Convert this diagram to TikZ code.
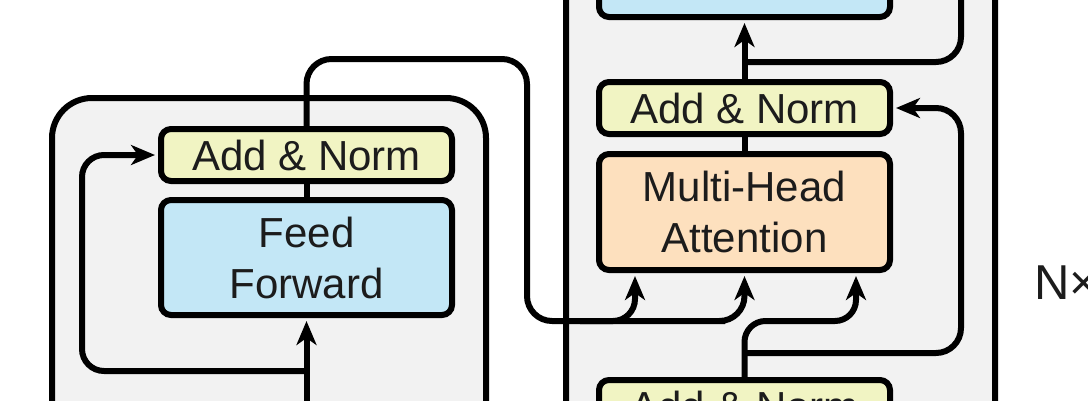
\documentclass[tikz,border=0pt]{standalone}
\usepackage{fontspec}
\setmainfont{Liberation Sans}
\usetikzlibrary{arrows.meta,calc,positioning}
\definecolor{panelgray}{HTML}{F2F2F2}
\definecolor{normyellow}{HTML}{F1F4C3}
\definecolor{ffblue}{HTML}{C3E7F6}
\definecolor{attnorange}{HTML}{FDE0BE}
\definecolor{inkgray}{HTML}{1C1C1C}

\begin{document}
\begin{tikzpicture}[x=1pt,y=-1pt,
	blk/.style={draw, line width=6pt, rounded corners=10pt, minimum width=291pt,
		align=center, inner sep=0pt, text=inkgray, font=\fontsize{42}{51}\selectfont},
	addnorm/.style={blk, fill=normyellow, minimum height=52pt},
	ffbox/.style={blk, fill=ffblue, minimum height=115pt},
	attnbox/.style={blk, fill=attnorange, minimum height=116pt},
	panel/.style={draw, fill=panelgray, line width=6pt, rounded corners=40pt},
	wire/.style={line width=6pt},
	arr/.style={wire, -{Stealth[length=24pt,width=20pt,inset=7pt]}, shorten >=3pt},
	]
	
	\useasboundingbox (0,0) rectangle (1088,400);
	
	% encoder layer
	\draw[panel] (52,98) rectangle (486,520);
	\node[addnorm] (encAN) at (306.5,155) {Add \& Norm};
	\node[ffbox] (encFF) at (306.5,257.5) {Feed\\Forward};
	
	% decoder layer
	\draw[panel] (566,-120) rectangle (995,520);
	\node[ffbox] (decFF) at (744.5,-40.5) {};
	\node[addnorm] (decAN) at (744.5,108) {Add \& Norm};
	\node[attnbox] (attn) at (744.5,212) {Multi-Head\\Attention};
	\node[addnorm] (decANlow) at (744.5,406) {Add \& Norm};
	
	\node[anchor=west, inner sep=0pt, text=inkgray, font=\fontsize{49}{58}\selectfont] (nx) at (1034,282.5) {N×};
	
	% helper points
	\coordinate (encIn) at (306.5,420);
	\coordinate (encSplit) at (306.5,371);
	\coordinate (encTurn) at (527,59);
	\coordinate (kvBus) at (700,321);
	\coordinate (qBus) at (580,321);
	\coordinate (decSplit) at (744.5,353);
	\coordinate (ffSplit) at (744.5,62);
	
	% encoder wires
	\draw[arr] (encIn) -- (encFF.south);
	\draw[wire] (encFF.north) -- (encAN.south);
	\draw[arr, rounded corners=22pt] (encSplit) -| (82,155) -- (encAN.west);
	\draw[arr, rounded corners=25pt] (encAN.north) |- (encTurn) |- (kvBus) -| (attn.south);
	\draw[arr, rounded corners=22pt] (qBus) -| ($(attn.south west)+(39,0)$);
	
	% decoder wires
	\draw[arr, rounded corners=21pt] (decANlow.north) |- (800,321) -| ($(attn.south east)+(-37,0)$);
	\draw[arr, rounded corners=25pt] (decSplit) -| (961,108) -- (decAN.east);
	\draw[wire] (attn.north) -- (decAN.south);
	\draw[arr] (decAN.north) -- (decFF.south);
	\draw[wire, rounded corners=25pt] (ffSplit) -| (961,-20);
\end{tikzpicture}
\end{document}
